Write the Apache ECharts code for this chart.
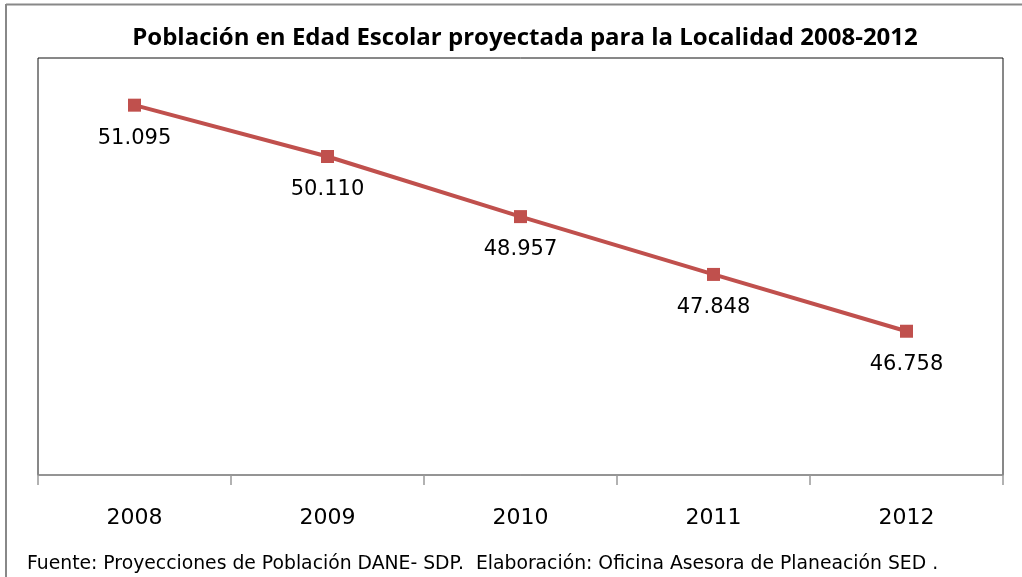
<!DOCTYPE html>
<html>
<head>
<meta charset="utf-8">
<script src="https://cdn.jsdelivr.net/npm/echarts@6/dist/echarts.min.js"></script>
<style>
  html, body { margin: 0; padding: 0; background: #fff; }
  #chart { width: 1022px; height: 577px; }
</style>
</head>
<body>
<div id="chart"></div>
<script>
// datos
const years = ['2008', '2009', '2010', '2011', '2012'];
const poblacion = [51095, 50110, 48957, 47848, 46758];
const yMin = 44000;
const yMax = 52000;

const chartTitle = 'Población en Edad Escolar proyectada para la Localidad 2008-2012';
const fuente = 'Fuente: Proyecciones de Población DANE- SDP.  Elaboración: Oficina Asesora de Planeación SED .';

// 51095 -> "51.095"
let miles = v => String(v).replace(/\B(?=(\d{3})+(?!\d))/g, '.');

let myChart = echarts.init(document.getElementById('chart'));
let option = {
    animation: false,
    title: {
        text: chartTitle,
        left: 520,
        textAlign: 'center',
        top: 21,
        textStyle: {
            fontFamily: 'Open Sans',
            fontWeight: 'bold',
            fontSize: 24,
            color: '#000'
        }
    },
    grid: {
        left: 38,
        right: 19,
        top: 58,
        height: 417,
        show: true,
        borderColor: '#111',
        borderWidth: 1
    },
    xAxis: {
        type: 'category',
        data: years,
        boundaryGap: true,
        axisLine: { lineStyle: { color: '#999', width: 1.5 } },
        axisTick: { show: true, length: 10, alignWithLabel: false, lineStyle: { color: '#999', width: 1.5 } },
        axisLabel: {
            margin: 32,
            fontFamily: 'DejaVu Sans',
            fontSize: 22,
            color: '#000'
        }
    },
    yAxis: {
        type: 'value',
        min: yMin,
        max: yMax,
        show: false,
        splitLine: { show: false }
    },
    series: [{
        type: 'line',
        data: poblacion,
        symbol: 'rect',
        symbolSize: 13,
        itemStyle: { color: '#c0504d' },
        lineStyle: { color: '#c0504d', width: 4 },
        label: {
            show: true,
            position: 'bottom',
            distance: 16,
            formatter: p => miles(p.value),
            fontFamily: 'DejaVu Sans',
            fontSize: 21,
            color: '#000'
        }
    }],
    graphic: [
        {
            type: 'line',
            shape: { x1: 6, y1: 4.5, x2: 1022, y2: 4.5 },
            style: { stroke: '#888', lineWidth: 2 }
        },
        {
            type: 'line',
            shape: { x1: 6, y1: 4, x2: 6, y2: 577 },
            style: { stroke: '#888', lineWidth: 2 }
        },
        {
            type: 'text',
            left: 27,
            top: 555,
            style: {
                text: fuente,
                fontFamily: 'DejaVu Sans',
                fontSize: 18.8,
                fill: '#000'
            }
        }
    ]
};
myChart.setOption(option);
</script>
</body>
</html>
